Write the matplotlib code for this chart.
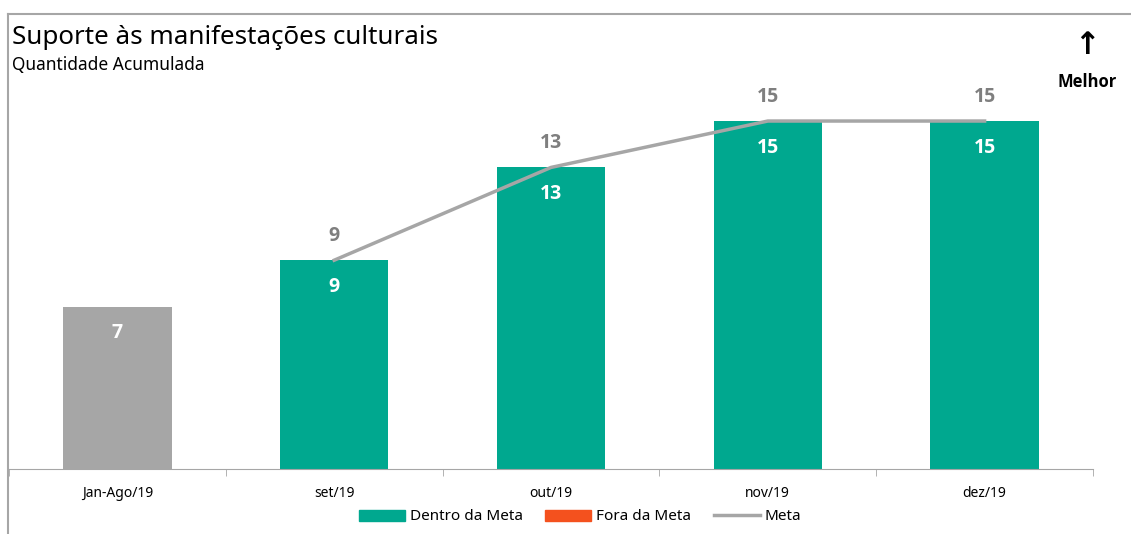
"""
Suporte às manifestações culturais - bar chart with target line.
"""
import matplotlib.pyplot as plt
from matplotlib.patches import Patch
from matplotlib.lines import Line2D

categories = ["Jan-Ago/19", "set/19", "out/19", "nov/19", "dez/19"]
realizado = [7, 9, 13, 15, 15]
meta = [None, 9, 13, 15, 15]
historico = [True, False, False, False, False]

VERDE = "#00A88F"
CINZA = "#A6A6A6"
LARANJA = "#F4511E"
NEGRITO = ["Open Sans", "DejaVu Sans"]

plt.rcParams["font.family"] = ["Noto Sans", "DejaVu Sans"]

fig = plt.figure(figsize=(11.31, 5.34), dpi=100)
W, H = 1131, 534
ax = fig.add_axes([9 / W, 1 - 469 / H, (1093 - 9) / W, (469 - 70) / H])

x = list(range(len(categories)))
cores = [CINZA if h else VERDE for h in historico]
ax.bar(x, realizado, width=0.5, color=cores, zorder=2)

for xi, v in zip(x, realizado):
    ax.text(xi, v - 1.15, str(v), ha="center", va="center", color="white",
            fontsize=14, fontweight="bold", family=NEGRITO, zorder=4)

mx = [xi for xi, m in zip(x, meta) if m is not None]
my = [m for m in meta if m is not None]
ax.plot(mx, my, color=CINZA, lw=2.5, zorder=3)
for xi, m in zip(mx, my):
    ax.text(xi, m + 1.05, str(m), ha="center", va="center", color="#7F7F7F",
            fontsize=14, fontweight="bold", family=NEGRITO)

ax.set_xlim(-0.5, len(categories) - 0.5)
ax.set_ylim(0, 17.2)
ax.set_yticks([])
ax.set_xticks(x)
ax.set_xticklabels(categories, fontsize=10)
ax.set_xticks([i - 0.5 for i in range(len(categories) + 1)], minor=True)
ax.tick_params(axis="x", which="major", length=0, pad=12)
ax.tick_params(axis="x", which="minor", length=5, color="#A6A6A6")
for s in ["top", "right", "left"]:
    ax.spines[s].set_visible(False)
ax.spines["bottom"].set_color("#A6A6A6")

# moldura do gráfico
fig.add_artist(Line2D([8 / W, 1], [1 - 14 / H, 1 - 14 / H], color="#A6A6A6", lw=1.5))
fig.add_artist(Line2D([8 / W, 8 / W], [0, 1 - 14 / H], color="#A6A6A6", lw=1.5))

fig.text(12 / W, 1 - 38 / H, "Suporte às manifestações culturais", fontsize=18.7,
         va="center", ha="left")
fig.text(12 / W, 1 - 65 / H, "Quantidade Acumulada", fontsize=12.5,
         va="center", ha="left")
fig.text(1087 / W, 1 - 46 / H, "↑", fontsize=22, ha="center", va="center",
         fontweight="bold", family="DejaVu Sans")
fig.text(1087 / W, 1 - 82 / H, "Melhor", fontsize=12, ha="center", va="center",
         fontweight="bold", family=NEGRITO)

handles = [Patch(color=VERDE, label="Dentro da Meta"),
           Patch(color=LARANJA, label="Fora da Meta"),
           Line2D([], [], color=CINZA, lw=2.5, label="Meta")]
fig.legend(handles=handles, loc="center", bbox_to_anchor=(580 / W, 1 - 517 / H),
           ncol=3, frameon=False, fontsize=11, handlelength=3.0, handleheight=0.7,
           columnspacing=1.5, handletextpad=0.3)

fig.savefig("out.png", dpi=100)
